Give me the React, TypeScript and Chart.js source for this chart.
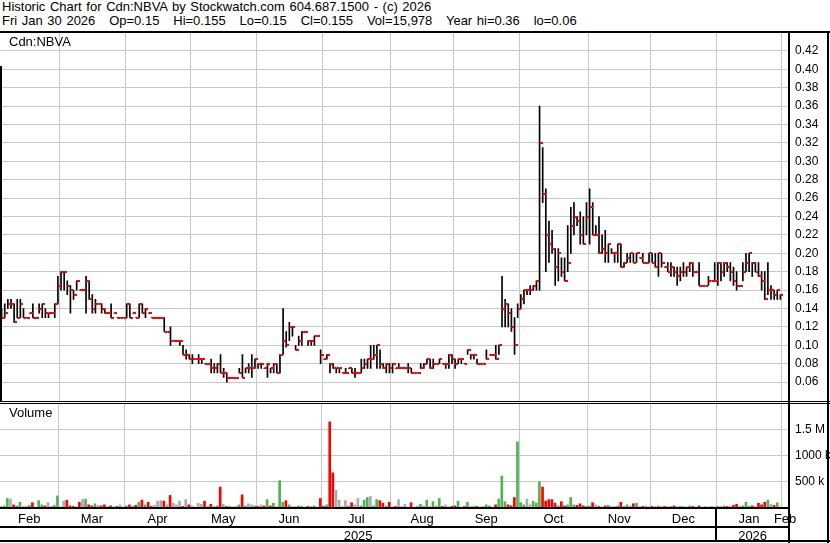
import React, { useEffect, useRef } from 'react';
import { Chart, registerables } from 'chart.js';

Chart.register(...registerables);

const FONT = '"Liberation Sans", Arial, sans-serif';

// ---- Data (trading days Feb 3 2025 .. Jan 30 2026) ----
const highs = [
  .14,.145,.15,.15,.145,.15,.15,.14,.13,.135,
  .145,.13,.145,.145,.14,.135,.135,.145,.175,.18,
  .18,.17,.165,.16,.17,.16,.16,.175,.17,.155,
  .15,.145,.145,.14,.135,.145,.135,.13,.13,.13,
  .145,.145,.135,.13,.145,.145,.14,.135,.13,.13,
  .13,.13,.13,.115,.12,.105,.105,.105,.10,.095,
  .09,.09,.085,.09,.085,.08,.08,.085,.08,.08,
  .09,.075,.07,.065,.065,.065,.075,.09,.075,.08,
  .09,.085,.08,.08,.075,.08,.075,.08,.08,.09,
  .14,.115,.125,.12,.10,.11,.115,.115,.105,.105,
  .11,.11,.095,.085,.09,.08,.08,.075,.075,.07,
  .075,.075,.075,.075,.07,.085,.085,.085,.10,.10,
  .10,.095,.08,.08,.08,.08,.075,.08,.075,.075,
  .08,.075,.07,.07,.08,.08,.085,.085,.085,.08,
  .085,.08,.08,.09,.09,.085,.085,.085,.08,.095,
  .09,.09,.085,.08,.08,.095,.09,.09,.10,.10,
  .175,.15,.145,.14,.13,.145,.155,.16,.16,.165,
  .165,.17,.36,.315,.27,.235,.225,.205,.205,.195,
  .195,.23,.25,.255,.24,.245,.24,.255,.27,.255,
  .23,.24,.22,.225,.21,.205,.20,.21,.21,.19,
  .20,.20,.20,.20,.195,.20,.19,.20,.20,.20,
  .20,.20,.185,.19,.19,.185,.185,.185,.19,.185,
  .19,.19,.18,.19,.165,.165,.175,.17,.19,.19,
  .19,.19,.19,.19,.185,.18,.165,.19,.20,.20,
  .19,.19,.19,.18,.18,.19,.165,.16,.16,.155,
];
const lows = [
  .13,.13,.14,.14,.125,.13,.13,.13,.13,.135,
  .13,.13,.135,.13,.13,.13,.135,.13,.145,.16,
  .16,.155,.135,.15,.16,.16,.16,.135,.15,.135,
  .135,.145,.135,.135,.135,.13,.135,.13,.13,.13,
  .13,.13,.135,.13,.13,.135,.13,.135,.13,.13,
  .13,.13,.115,.115,.10,.105,.105,.10,.09,.085,
  .085,.08,.085,.08,.08,.08,.08,.07,.07,.07,
  .07,.065,.06,.065,.065,.065,.07,.065,.07,.07,
  .065,.075,.075,.075,.075,.065,.07,.07,.07,.07,
  .09,.098,.105,.11,.095,.10,.10,.115,.10,.10,
  .10,.11,.08,.085,.085,.07,.075,.07,.07,.07,
  .07,.075,.07,.065,.07,.07,.075,.075,.075,.085,
  .075,.075,.075,.07,.07,.07,.075,.075,.075,.075,
  .07,.07,.07,.07,.075,.075,.08,.075,.075,.08,
  .08,.08,.075,.075,.08,.075,.08,.08,.08,.09,
  .085,.085,.08,.08,.08,.085,.09,.09,.085,.09,
  .12,.12,.12,.115,.09,.13,.14,.145,.155,.155,
  .16,.16,.16,.255,.18,.19,.20,.165,.17,.175,
  .17,.18,.20,.22,.23,.21,.21,.22,.21,.22,
  .22,.20,.20,.19,.19,.20,.19,.19,.185,.185,
  .19,.19,.19,.19,.195,.19,.19,.19,.19,.185,
  .175,.185,.185,.18,.175,.175,.165,.17,.175,.175,
  .18,.175,.18,.165,.165,.165,.165,.17,.17,.165,
  .17,.175,.18,.17,.165,.16,.165,.17,.18,.18,
  .175,.18,.175,.16,.15,.155,.15,.15,.15,.15,
];
const closes = [
  .13,.135,.145,.145,.125,.13,.145,.13,.13,.135,
  .13,.13,.14,.145,.135,.135,.135,.145,.165,.18,
  .18,.165,.16,.155,.17,.16,.16,.17,.15,.14,
  .145,.145,.14,.135,.135,.13,.135,.13,.13,.13,
  .145,.13,.135,.13,.145,.135,.14,.135,.13,.13,
  .13,.13,.115,.115,.105,.105,.105,.105,.09,.09,
  .085,.085,.085,.085,.085,.08,.08,.075,.075,.08,
  .07,.07,.065,.065,.065,.065,.07,.065,.075,.075,
  .075,.085,.08,.08,.075,.08,.075,.08,.07,.09,
  .105,.10,.12,.12,.095,.105,.115,.115,.105,.105,
  .11,.11,.09,.085,.09,.08,.075,.075,.075,.07,
  .07,.075,.07,.07,.07,.075,.08,.085,.085,.09,
  .10,.08,.075,.08,.075,.08,.075,.075,.075,.075,
  .075,.07,.07,.07,.075,.08,.085,.075,.08,.08,
  .085,.08,.08,.09,.085,.08,.085,.085,.08,.095,
  .09,.09,.08,.08,.08,.085,.09,.09,.085,.10,
  .14,.145,.135,.12,.10,.14,.15,.16,.16,.16,
  .165,.17,.32,.265,.22,.21,.205,.185,.20,.18,
  .17,.19,.23,.24,.235,.22,.21,.24,.25,.22,
  .22,.20,.205,.20,.21,.20,.20,.21,.185,.19,
  .195,.20,.19,.20,.195,.19,.19,.20,.19,.185,
  .20,.19,.185,.18,.185,.18,.175,.18,.18,.185,
  .19,.18,.18,.165,.165,.165,.17,.17,.17,.19,
  .18,.19,.185,.18,.17,.165,.165,.18,.19,.20,
  .19,.18,.175,.17,.15,.16,.16,.155,.16,.155,
];
// volume in thousands of shares
const volumesK = [
  30,40,180,170,60,40,110,20,30,50,100,20,140,60,40,100,30,50,230,
  20,130,150,40,30,20,110,160,170,60,40,80,50,40,60,30,40,20,30,60,20,
  40,60,30,50,110,150,60,110,30,50,130,140,130,60,240,90,60,130,30,160,60,
  40,20,90,70,130,30,70,30,40,400,70,30,40,20,30,60,250,40,80,60,40,
  30,60,40,160,40,90,20,520,110,140,60,30,20,40,30,20,30,30,40,20,180,
  30,60,1640,670,340,150,20,140,40,100,60,180,40,150,200,220,40,160,140,90,30,110,
  20,30,160,30,70,20,100,20,40,70,30,150,20,120,40,180,30,60,20,30,
  40,130,20,30,110,20,40,30,20,30,60,40,20,60,170,610,120,60,40,200,1260,
  100,60,170,60,130,90,500,400,130,160,160,90,40,120,40,60,200,60,50,80,40,30,
  40,100,60,30,20,40,50,20,30,40,110,30,60,30,80,90,20,30,40,20,
  30,20,40,20,30,20,30,40,20,30,30,20,40,30,20,40,20,30,20,30,20,
  30,20,40,30,20,50,70,30,40,110,30,40,20,90,60,110,150,70,50,100,16,
];

// first trading-day index of each month (Mar 2025 .. Feb 2026)
const monthStarts = [19, 40, 61, 82, 103, 125, 145, 166, 188, 208, 229, 250];
const monthLabels = ['Feb', 'Mar', 'Apr', 'May', 'Jun', 'Jul', 'Aug', 'Sep', 'Oct', 'Nov', 'Dec', 'Jan', 'Feb'];
const yearLabels = ['2025', '2026'];
const yearStartIndex = 229;
const priceTicks = [0.06, 0.08, 0.10, 0.12, 0.14, 0.16, 0.18, 0.20, 0.22, 0.24, 0.26, 0.28, 0.30, 0.32, 0.34, 0.36, 0.38, 0.40, 0.42];
const volTicks = [500000, 1000000, 1500000];
const volTickLabels = ['500 k', '1000 k', '1.5 M'];

const headerLine1 = 'Historic Chart for Cdn:NBVA by Stockwatch.com 604.687.1500 - (c) 2026';
const headerLine2 = 'Fri Jan 30 2026   Op=0.15   Hi=0.155   Lo=0.15   Cl=0.155   Vol=15,978   Year hi=0.36   lo=0.06';

const X_MIN = -0.35;
const X_MAX = 251.75;
const boundaries = monthStarts.map((k) => k - 0.5);
const allBounds = [-0.5, ...boundaries];
const monthMids = monthLabels.map((_, j) =>
  j < allBounds.length - 1 ? (allBounds[j] + allBounds[j + 1]) / 2 : allBounds[j] + 1
);
const yearBoundary = yearStartIndex - 0.5;
const yearMids = [(X_MIN + yearBoundary) / 2, (yearBoundary + X_MAX) / 2];

const GRID = '#c8c8c8';
const GREEN = '#4fb34f';
const RED = '#ff0000';
const GRAY = '#aaaaaa';

function zeroPad(s: any) {
  s.paddingTop = 0;
  s.paddingBottom = 0;
  s.paddingLeft = 0;
  s.paddingRight = 0;
}

function PriceChart() {
  const ref = useRef<HTMLCanvasElement>(null);
  useEffect(() => {
    const tick = document.createElement('canvas');
    tick.width = 6;
    tick.height = 2;
    const tc = tick.getContext('2d')!;
    tc.fillStyle = RED;
    tc.fillRect(3, 0, 3, 2);

    const chart = new Chart(ref.current!, {
      type: 'bar',
      data: {
        datasets: [
          {
            type: 'scatter',
            data: closes.map((c, i) => ({ x: i, y: c })),
            pointStyle: tick as any,
            pointRadius: 0.5,
            pointBorderWidth: 0,
            pointHoverRadius: 0.5,
            pointHitRadius: 0,
            order: 1,
          } as any,
          {
            type: 'bar',
            data: highs.map((h, i) => ({ x: i, y: [lows[i], h] })),
            backgroundColor: '#000',
            borderWidth: 0,
            barThickness: 1,
            order: 2,
          } as any,
        ],
      },
      options: {
        animation: false,
        responsive: false,
        maintainAspectRatio: false,
        layout: { padding: 0 },
        plugins: { legend: { display: false }, tooltip: { enabled: false } },
        scales: {
          x: {
            type: 'linear',
            min: X_MIN,
            max: X_MAX,
            offset: false,
            afterBuildTicks: (a: any) => {
              a.ticks = boundaries.map((v) => ({ value: v }));
            },
            ticks: { display: false },
            grid: { color: GRID, drawTicks: false, offset: false },
            border: { display: false },
            afterFit: (s: any) => {
              s.height = 0;
              zeroPad(s);
            },
          },
          y: {
            position: 'right',
            min: 0.04,
            max: 0.44,
            afterBuildTicks: (a: any) => {
              a.ticks = priceTicks.map((v) => ({ value: v }));
            },
            ticks: {
              callback: (v: any) => Number(v).toFixed(2),
              color: '#000',
              font: { family: FONT, size: 12 },
              padding: 6,
            },
            grid: { color: GRID, drawTicks: false },
            border: { display: false },
            afterFit: (s: any) => {
              s.width = 41;
              zeroPad(s);
            },
          },
        } as any,
      },
    });
    return () => chart.destroy();
  }, []);
  return (
    <canvas
      ref={ref}
      width={830}
      height={369}
      style={{ position: 'absolute', left: 0, top: 32, width: 830, height: 369 }}
    />
  );
}

function VolumeChart() {
  const ref = useRef<HTMLCanvasElement>(null);
  useEffect(() => {
    const colors = closes.map((c, i) => {
      if (i === 0) return GRAY;
      if (c > closes[i - 1] + 1e-9) return GREEN;
      if (c < closes[i - 1] - 1e-9) return RED;
      return GRAY;
    });
    const framePlugin = {
      id: 'frame',
      afterDraw(chart: any) {
        const { ctx, chartArea, scales } = chart;
        ctx.save();
        ctx.fillStyle = '#000';
        const right = chartArea.right;
        ctx.fillRect(0, chartArea.bottom - 1, right, 2);
        ctx.fillRect(0, scales.xm.bottom - 1, right, 2);
        ctx.fillRect(0, chart.height - 3, chart.width, 2);
        const xd = Math.round(scales.x.getPixelForValue(yearBoundary));
        ctx.fillRect(xd - 1, chartArea.bottom, 2, chart.height - 2 - chartArea.bottom);
        ctx.restore();
      },
    };
    const chart = new Chart(ref.current!, {
      type: 'bar',
      data: {
        datasets: [
          {
            data: volumesK.map((v, i) => ({ x: i, y: v * 1000 })),
            backgroundColor: colors,
            borderWidth: 0,
            barThickness: 2,
          } as any,
        ],
      },
      options: {
        animation: false,
        responsive: false,
        maintainAspectRatio: false,
        layout: { padding: 0 },
        plugins: { legend: { display: false }, tooltip: { enabled: false } },
        scales: {
          x: {
            type: 'linear',
            min: X_MIN,
            max: X_MAX,
            offset: false,
            afterBuildTicks: (a: any) => {
              a.ticks = boundaries.map((v) => ({ value: v }));
            },
            ticks: { display: false },
            grid: { color: GRID, drawTicks: false, offset: false },
            border: { display: false },
            afterFit: (s: any) => {
              s.height = 0;
              zeroPad(s);
            },
          },
          xm: {
            type: 'linear',
            position: 'bottom',
            weight: 1,
            min: X_MIN,
            max: X_MAX,
            offset: false,
            afterBuildTicks: (a: any) => {
              a.ticks = monthMids.map((v) => ({ value: v }));
            },
            ticks: {
              autoSkip: false,
              maxRotation: 0,
              minRotation: 0,
              padding: 4,
              color: '#000',
              font: { family: FONT, size: 13 },
              callback: (_v: any, i: number) => monthLabels[i],
            },
            grid: { display: false, drawTicks: false },
            border: { display: false },
            afterFit: (s: any) => {
              s.height = 19;
              zeroPad(s);
            },
          },
          xy: {
            type: 'linear',
            position: 'bottom',
            weight: 2,
            min: X_MIN,
            max: X_MAX,
            offset: false,
            afterBuildTicks: (a: any) => {
              a.ticks = yearMids.map((v) => ({ value: v }));
            },
            ticks: {
              autoSkip: false,
              maxRotation: 0,
              minRotation: 0,
              padding: 2,
              color: '#000',
              font: { family: FONT, size: 13 },
              callback: (_v: any, i: number) => yearLabels[i],
            },
            grid: { display: false, drawTicks: false },
            border: { display: false },
            afterFit: (s: any) => {
              s.height = 16;
              zeroPad(s);
            },
          },
          y: {
            position: 'right',
            min: 0,
            max: 1980000,
            afterBuildTicks: (a: any) => {
              a.ticks = volTicks.map((v) => ({ value: v }));
            },
            ticks: {
              callback: (_v: any, i: number) => volTickLabels[i],
              color: '#000',
              font: { family: FONT, size: 12 },
              padding: 6,
            },
            grid: { color: GRID, drawTicks: false },
            border: { display: false },
            afterFit: (s: any) => {
              s.width = 41;
              zeroPad(s);
            },
          },
        } as any,
      },
      plugins: [framePlugin],
    });
    return () => chart.destroy();
  }, []);
  return (
    <canvas
      ref={ref}
      width={830}
      height={139}
      style={{ position: 'absolute', left: 0, top: 404, width: 830, height: 139 }}
    />
  );
}

const line = (left: number, top: number, width: number, height: number) => (
  <div style={{ position: 'absolute', left, top, width, height, background: '#000' }} />
);

const headerStyle: React.CSSProperties = {
  position: 'absolute',
  left: 2,
  fontSize: 13,
  lineHeight: '14px',
  whiteSpace: 'pre',
  wordSpacing: '1px',
};

export default function App() {
  return (
    <div
      style={{
        position: 'fixed',
        left: 0,
        top: 0,
        width: 830,
        height: 543,
        background: '#fff',
        overflow: 'hidden',
        fontFamily: FONT,
        color: '#000',
      }}
    >
      <div style={{ ...headerStyle, top: 0 }}>{headerLine1}</div>
      <div style={{ ...headerStyle, top: 14 }}>{headerLine2}</div>
      <PriceChart />
      <VolumeChart />
      {line(0, 31, 830, 2)}
      {line(0, 66, 2, 335)}
      {line(788, 31, 2, 512)}
      {line(827, 31, 2, 512)}
      {line(0, 401, 830, 1)}
      {line(0, 403, 830, 1)}
      <div style={{ position: 'absolute', left: 9, top: 34, fontSize: 13, lineHeight: '15px', whiteSpace: 'pre' }}>
        Cdn:NBVA
      </div>
      <div style={{ position: 'absolute', left: 9, top: 405, fontSize: 13, lineHeight: '15px', whiteSpace: 'pre' }}>
        Volume
      </div>
    </div>
  );
}
